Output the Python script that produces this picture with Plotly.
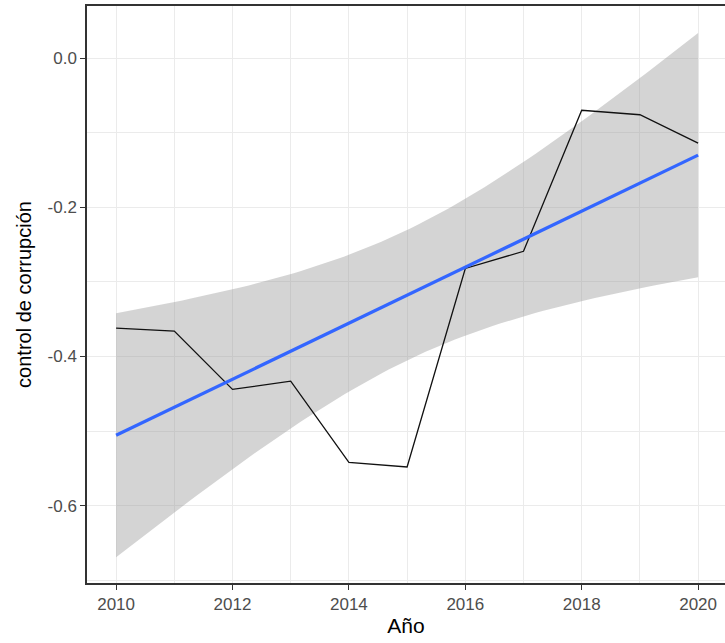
import numpy as np
import plotly.graph_objects as go

# Control of corruption index by year
anios = [2010, 2011, 2012, 2013, 2014, 2015, 2016, 2017, 2018, 2019, 2020]
control = [-0.362, -0.366, -0.444, -0.433, -0.542, -0.548, -0.282, -0.259, -0.070, -0.076, -0.114]

x_ticks = [2010, 2012, 2014, 2016, 2018, 2020]
x_ticklabels = ["2010", "2012", "2014", "2016", "2018", "2020"]
y_ticks = [0.0, -0.2, -0.4, -0.6]
y_ticklabels = ["0.0", "-0.2", "-0.4", "-0.6"]

# Linear fit with 95% confidence band (like geom_smooth(method="lm"))
x = np.array(anios, dtype=float)
y = np.array(control, dtype=float)
n = len(x)
xm = x.mean()
sxx = ((x - xm) ** 2).sum()
slope = ((x - xm) * (y - y.mean())).sum() / sxx
intercept = y.mean() - slope * xm
resid = y - (intercept + slope * x)
s = np.sqrt((resid ** 2).sum() / (n - 2))
t975 = 2.262157  # t quantile, 9 degrees of freedom
xg = np.linspace(x.min(), x.max(), 80)
fit = intercept + slope * xg
se = s * np.sqrt(1.0 / n + (xg - xm) ** 2 / sxx)
upper = fit + t975 * se
lower = fit - t975 * se

fig = go.Figure()
fig.add_trace(go.Scatter(x=xg, y=upper, mode="lines", line=dict(width=0),
                         hoverinfo="skip", showlegend=False))
fig.add_trace(go.Scatter(x=xg, y=lower, mode="lines", line=dict(width=0),
                         fill="tonexty", fillcolor="rgba(153,153,153,0.42)",
                         hoverinfo="skip", showlegend=False))
fig.add_trace(go.Scatter(x=anios, y=control, mode="lines",
                         line=dict(color="#111111", width=1.3), showlegend=False))
fig.add_trace(go.Scatter(x=xg, y=fit, mode="lines",
                         line=dict(color="#3366FF", width=3.2), showlegend=False))

W, H = 725, 643
ml, mr, mt, mb = 87, 0, 6, 60
plot_w = W - ml - mr
px_per_year = (698 - 116) / 10.0
x0 = 2009.5
x1 = x0 + plot_w / px_per_year

grid = "#EBEBEB"
font_fam = "Liberation Sans, Arial, sans-serif"

fig.update_layout(
    width=W, height=H,
    margin=dict(l=ml, r=mr, t=mt, b=mb),
    paper_bgcolor="white", plot_bgcolor="white",
    font=dict(family=font_fam),
    xaxis=dict(
        range=[x0, x1], tickvals=x_ticks, ticktext=x_ticklabels,
        showgrid=True, gridcolor=grid, gridwidth=1.4,
        minor=dict(dtick=1, tick0=2009, showgrid=True, gridcolor=grid, gridwidth=0.8, ticks=""),
        zeroline=False, showline=True, linecolor="#333333", linewidth=1.5, mirror=True,
        ticks="outside", ticklen=5, tickwidth=1.3, tickcolor="#333333",
        tickfont=dict(size=17, color="#4D4D4D"),
        title=dict(text="Año", font=dict(size=21, color="black"), standoff=5),
        automargin=False,
    ),
    yaxis=dict(
        range=[-0.7035, 0.0697], tickvals=y_ticks, ticktext=y_ticklabels,
        showgrid=True, gridcolor=grid, gridwidth=1.4,
        minor=dict(tickvals=[-0.7, -0.5, -0.3, -0.1], showgrid=True, gridcolor=grid, gridwidth=0.8, ticks=""),
        zeroline=False, showline=True, linecolor="#333333", linewidth=1.5, mirror=False,
        ticks="outside", ticklen=5, tickwidth=1.3, tickcolor="#333333",
        tickfont=dict(size=17, color="#4D4D4D"),
        title=dict(text="control de corrupción", font=dict(size=20, color="black"), standoff=11),
        automargin=False,
    ),
)

fig.write_html("out.html")
